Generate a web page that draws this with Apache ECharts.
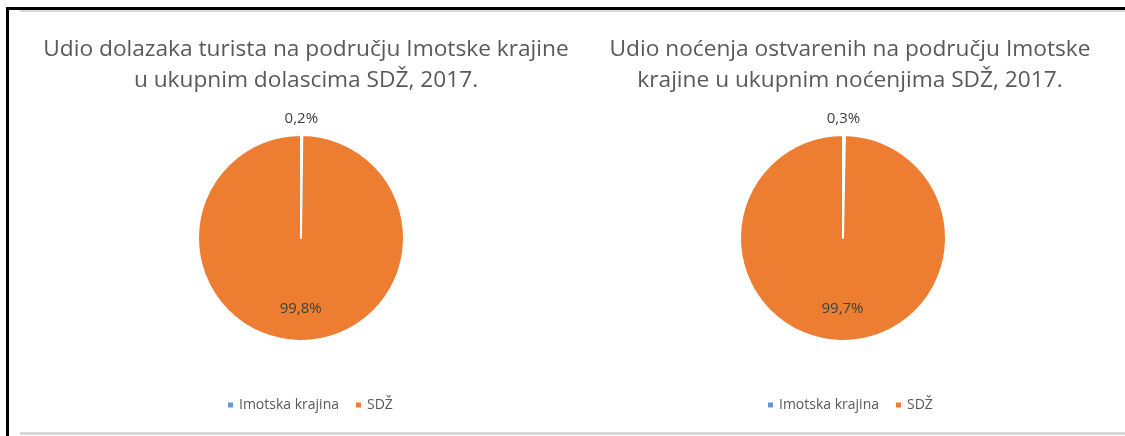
<!DOCTYPE html>
<html>
<head>
<meta charset="utf-8">
<script src="https://cdn.jsdelivr.net/npm/echarts@6/dist/echarts.min.js"></script>
<style>
  html, body { margin: 0; padding: 0; background: #fff; }
  #chart { width: 1125px; height: 436px; }
</style>
</head>
<body>
<div id="chart"></div>
<script>
// podaci
var categories = ['Imotska krajina', 'SDŽ'];
var dolasci = [0.2, 99.8];   // udio dolazaka, %
var nocenja = [0.3, 99.7];   // udio noćenja, %
var titles = [
  'Udio dolazaka turista na području Imotske krajine\nu ukupnim dolascima SDŽ, 2017.',
  'Udio noćenja ostvarenih na području Imotske\nkrajine u ukupnim noćenjima SDŽ, 2017.'
];
var colors = ['#5B9BD5', '#ED7D31'];

var font = 'Open Sans';
var chart = echarts.init(document.getElementById('chart'));

function fmt(p) {
  return p.value.toFixed(1).replace('.', ',') + '%';
}

function pieSeries(values, cx) {
  return {
    type: 'pie',
    center: [cx, 238],
    radius: [0, 103],
    startAngle: 90,
    clockwise: true,
    avoidLabelOverlap: false,
    animation: false,
    silent: true,
    itemStyle: { borderColor: '#fff', borderWidth: 2 },
    label: {
      show: true,
      position: 'inside',
      formatter: fmt,
      fontFamily: font,
      fontSize: 15,
      color: '#404040'
    },
    labelLine: { show: false },
    data: categories.map(function (c, i) {
      return {
        name: c,
        value: values[i],
        label: { offset: i === 0 ? [0, -65] : [0, 16] }
      };
    })
  };
}

function legend(left) {
  return {
    left: left,
    top: 393,
    icon: 'rect',
    itemWidth: 7,
    itemHeight: 7,
    itemGap: 15,
    selectedMode: false,
    textStyle: { fontFamily: font, fontSize: 14, color: '#595959' },
    data: categories
  };
}

var titleStyle = { fontFamily: font, fontSize: 22.7, fontWeight: 'normal', color: '#595959', lineHeight: 31 };

chart.setOption({
  color: colors,
  title: [
    { text: titles[0], left: 301, top: 29, textAlign: 'center', textStyle: titleStyle },
    { text: titles[1], left: 845, top: 29, textAlign: 'center', textStyle: titleStyle }
  ],
  legend: [legend(221), legend(761)],
  graphic: [
    { type: 'rect', shape: { x: 6, y: 7, width: 1119, height: 3 }, style: { fill: '#000' } },
    { type: 'rect', shape: { x: 6, y: 7, width: 3, height: 429 }, style: { fill: '#000' } },
    { type: 'rect', shape: { x: 20, y: 10, width: 1105, height: 2 }, style: { fill: '#d9d9d9' } },
    { type: 'rect', shape: { x: 20, y: 432, width: 1105, height: 3 }, style: { fill: '#d9d9d9' } }
  ],
  series: [pieSeries(dolasci, 301), pieSeries(nocenja, 843)]
});
</script>
</body>
</html>
